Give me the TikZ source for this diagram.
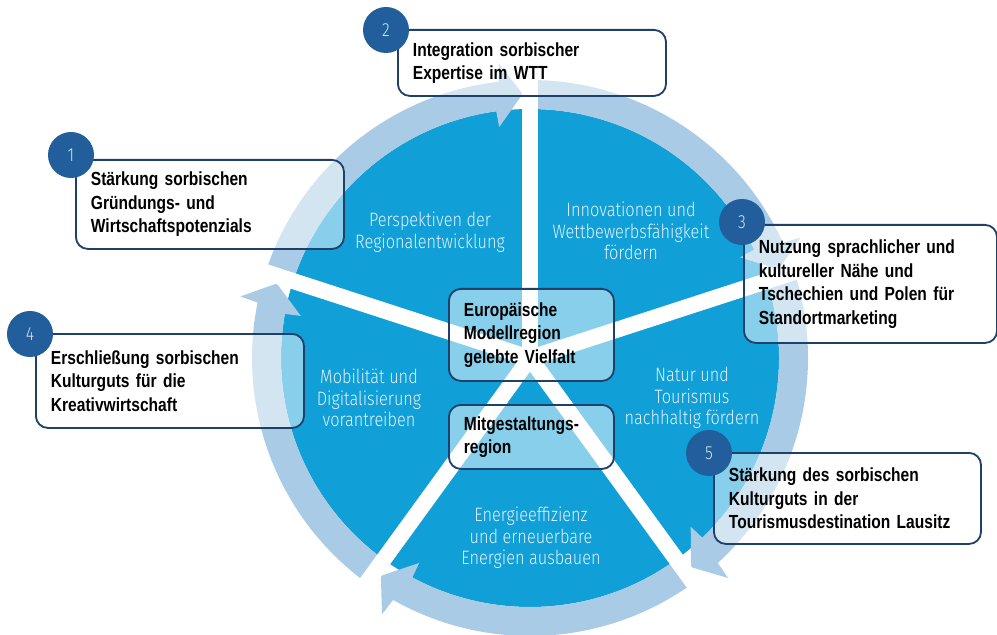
\documentclass[tikz,border=0pt]{standalone}
\usepackage{fontspec}
\setmainfont{Liberation Sans}[FakeStretch=0.82]
\newfontfamily\seglabelfont{Fira Sans}[UprightFont=* Light, FakeStretch=0.84]
\newcommand\boxtextfont{\fontsize{13.5pt}{16.7pt}\selectfont\bfseries\spaceskip=0.19em\relax}
\definecolor{pieblue}{RGB}{16,159,215}
\definecolor{ringblue}{RGB}{170,203,230}
\definecolor{boxnavy}{RGB}{30,64,105}
\definecolor{circblue}{RGB}{33,94,155}
\definecolor{labeltext}{RGB}{225,242,251}
\definecolor{numtext}{RGB}{210,228,245}
\begin{document}
\begin{tikzpicture}[x=0.025cm,y=0.025cm,
  infobox/.style={draw=boxnavy, line width=1.3pt, rounded corners=8.5pt,
    fill=white, fill opacity=0.5, text opacity=1, anchor=north west,
    inner xsep=0.375cm, inner ysep=0pt, align=left,
    font=\boxtextfont},
  numcircle/.style={circle, fill=circblue, minimum size=1.15cm, inner sep=0pt,
    text=numtext, font=\seglabelfont\fontsize{13.5pt}{14pt}\selectfont},
  seglabel/.style={align=center, text=labeltext, inner sep=0pt,
    font=\seglabelfont\fontsize{13.8pt}{15.2pt}\selectfont}]
\useasboundingbox (0,0) rectangle (997,-635);

% pie, circular arrows and the five white separators
\begin{scope}[shift={(530,-358)}]
  \fill[pieblue] (0,0) circle (249);
  \foreach \g in {90,18,-54,-126,-198}{
    \pgfmathsetmacro\angS{\g+72}
    \pgfmathsetmacro\angOut{\g+6.5}
    \pgfmathsetmacro\angBo{\g+6.0}
    \pgfmathsetmacro\angTip{\g+1.6}
    \pgfmathsetmacro\angBi{\g+7.6}
    \pgfmathsetmacro\angIn{\g+7.8}
    \fill[ringblue] (\angS:278) arc[start angle=\angS, end angle=\angOut, radius=278]
      -- (\angBo:296) -- (\angTip:264) -- (\angBi:233) -- (\angIn:249)
      arc[start angle=\angIn, end angle=\angS, radius=249] -- cycle;
  }
  \foreach \g in {90,18,-54,-126,-198}
    \draw[white, line width=0.4cm] (0,0) -- (\g:300);
\end{scope}

% sector labels
\node[seglabel] (lperspektiven) at (430,-232) {Perspektiven der\\Regionalentwicklung};
\node[seglabel] (linnovation) at (631,-231) {Innovationen und\\Wettbewerbsfähigkeit\\fördern};
\node[seglabel] (lmobilitaet) at (369,-398) {Mobilität und\\Digitalisierung\\vorantreiben};
\node[seglabel] (lnatur) at (692,-398) {Natur und\\Tourismus\\nachhaltig fördern};
\node[seglabel] (lenergie) at (531,-538) {Energieeffizienz\\und erneuerbare\\Energien ausbauen};

% centre boxes
\node[infobox, minimum width=4.125cm, minimum height=2.3cm, text width=3.375cm] (mmodell) at (448,-288)
  {Europäische\\Modellregion\\gelebte Vielfalt};
\node[infobox, minimum width=4.125cm, minimum height=1.6cm, text width=3.375cm] (mmitgest) at (448,-404)
  {Mitgestaltungs-\\region};

% numbered boxes
\node[infobox, minimum width=6.7cm, minimum height=2.225cm, text width=5.95cm] (b1) at (75,-159)
  {Stärkung sorbischen\\Gründungs- und\\Wirtschaftspotenzials};
\node[infobox, minimum width=6.7cm, minimum height=1.65cm, text width=5.95cm] (b2) at (397,-29)
  {Integration sorbischer\\Expertise im WTT};
\node[infobox, minimum width=6.325cm, minimum height=2.95cm, text width=5.575cm] (b3) at (743,-224)
  {Nutzung sprachlicher und\\kultureller Nähe und\\Tschechien und Polen für\\Standortmarketing};
\node[infobox, minimum width=6.7cm, minimum height=2.35cm, text width=5.95cm] (b4) at (35,-333)
  {Erschließung sorbischen\\Kulturguts für die\\Kreativwirtschaft};
\node[infobox, minimum width=6.675cm, minimum height=2.275cm, text width=5.925cm] (b5) at (713,-452)
  {Stärkung des sorbischen\\Kulturguts in der\\Tourismusdestination Lausitz};

% number badges
\node[numcircle] (n1) at (71,-155) {1};
\node[numcircle] (n2) at (386,-30) {2};
\node[numcircle] (n3) at (742,-222) {3};
\node[numcircle] (n4) at (30,-334) {4};
\node[numcircle] (n5) at (709,-453) {5};
\end{tikzpicture}
\end{document}
